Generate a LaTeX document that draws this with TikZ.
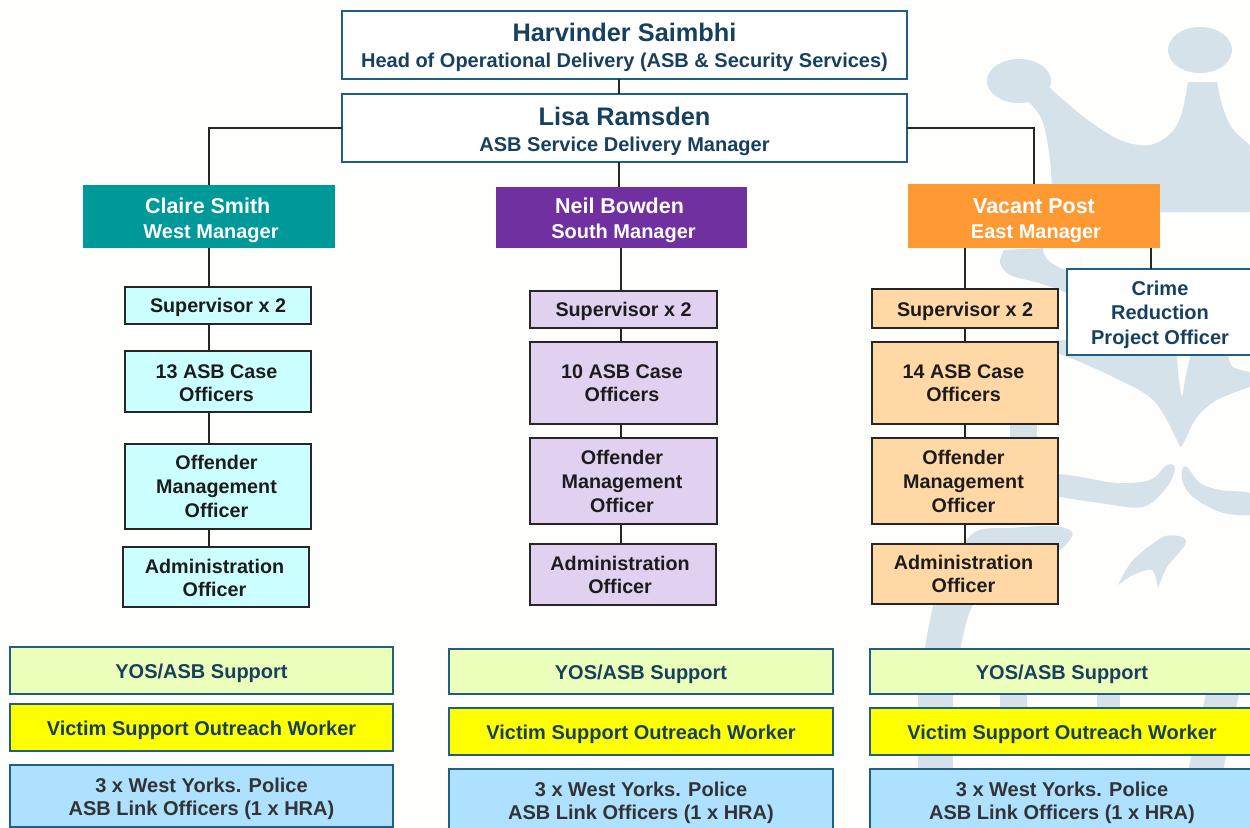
\documentclass[tikz,border=0pt]{standalone}
\usepackage{fontspec}
\setmainfont{Liberation Sans}
\definecolor{pagebg}{HTML}{FEFEFC}
\definecolor{wm}{HTML}{D5E2E9}
\definecolor{edgeblue}{HTML}{205F82}
\definecolor{inkblue}{HTML}{17405F}
\definecolor{inkdark}{HTML}{1C1C1C}
\definecolor{inkgrey}{HTML}{333333}
\definecolor{linedark}{HTML}{262626}
\definecolor{tealfill}{HTML}{009999}
\definecolor{purplefill}{HTML}{7030A0}
\definecolor{orangefill}{HTML}{FF9933}
\definecolor{cyanfill}{HTML}{CCFFFF}
\definecolor{lilacfill}{HTML}{E1D1F0}
\definecolor{peachfill}{HTML}{FFD8A6}
\definecolor{limefill}{HTML}{EBFFBB}
\definecolor{yellowfill}{HTML}{FFFF00}
\definecolor{skyfill}{HTML}{ADE1FF}
\newcommand\bxnode[7]{\node[#2,minimum width={(#5-#3)*0.75pt},minimum height={(#6-#4)*0.75pt}] (#1) at ({(#3+#5)/2},{(#4+#6)/2}) {#7};}
\newcommand\fA{\fontsize{19}{21}\selectfont}
\newcommand\fB{\fontsize{15}{21}\selectfont}
\newcommand\fC{\fontsize{16.1}{19}\selectfont}
\newcommand\fM{\fontsize{15}{18.7}\selectfont}
\newcommand\fD{\fontsize{14.8}{17.3}\selectfont}
\newcommand\ls{\hspace*{-2.2pt}}
\newcommand\dn[1]{\rule{0pt}{#1pt}}
\tikzset{
  anybox/.style={rectangle,inner sep=0pt,outer sep=0pt,align=center,font=\bfseries},
  headbox/.style={anybox,draw=edgeblue,line width=1.4pt,fill=white,text=inkblue},
  mgrbox/.style={anybox,text=white,fill=#1},
  staffbox/.style={anybox,draw=black!85,line width=1.4pt,fill=#1,text=inkdark,font=\bfseries\fD},
  supbox/.style={anybox,draw=edgeblue,line width=1.4pt,fill=#1,text=inkblue,font=\bfseries\fontsize{15}{17.3}\selectfont},
  linkbox/.style={anybox,draw=edgeblue,line width=1.4pt,fill=skyfill,text=inkgrey,font=\bfseries\fontsize{15}{17.3}\selectfont},
  conn/.style={draw=linedark,line width=1.4pt},
  wmshape/.style={fill=wm,draw=none}
}
\begin{document}
\begin{tikzpicture}[x=0.75pt,y=-0.75pt]
\useasboundingbox (0,0) rectangle (1250,828);
\clip (0,0) rectangle (1250,828);
\fill[pagebg] (0,0) rectangle (1250,828);
% watermark crown
\fill[wmshape] (1019,81) ellipse [x radius=32,y radius=22];
\fill[wmshape] (1200,50) ellipse [x radius=32,y radius=23];
\fill[wmshape] plot[smooth,tension=.55] coordinates {(1027,100) (1042,120) (1050,160) (1053,212)} -- (1250,212) -- (1250,145)
  -- plot[smooth,tension=.55] coordinates {(1250,145) (1232,128) (1222,105) (1217,82)}
  -- (1188,82)
  -- plot[smooth,tension=.55] coordinates {(1188,82) (1182,112) (1172,132) (1150,145) (1120,140) (1085,118) (1050,88)} -- cycle;
\fill[wmshape] plot[smooth,tension=.55] coordinates {(1004,250) (1000,263) (1010,275) (1035,282) (1060,290) (1080,300)} -- (1080,255)
  -- plot[smooth,tension=.55] coordinates {(1080,272) (1060,268) (1046,258) (1043,248)} -- cycle;
\fill[wmshape] (1057,353) -- (1057,340) -- (1177,340) -- (1177,357)
  -- plot[smooth,tension=.5] coordinates {(1177,357) (1179,380) (1182,397) (1185,380) (1190,357)}
  -- (1190,340) -- (1228,340) -- (1228,355)
  -- plot[smooth,tension=.6] coordinates {(1228,355) (1233,367) (1250,372)}
  -- (1250,387)
  -- plot[smooth,tension=.6] coordinates {(1250,387) (1217,400) (1197,417) (1185,440) (1180,447) (1177,440) (1153,400) (1113,377) (1080,362) (1057,353)} -- cycle;
\fill[wmshape] plot[smooth,tension=.55] coordinates {(1040,472) (1075,476) (1117,483) (1150,480) (1167,465) (1175,468) (1167,487) (1143,507) (1100,503) (1060,497) (1040,492)} -- cycle;
\fill[wmshape] plot[smooth cycle,tension=.55] coordinates {(1182,470) (1187,467) (1200,483) (1220,490) (1250,493) (1262,505) (1250,515) (1220,512) (1193,497) (1183,483)};
\fill[wmshape] (1010,415) rectangle (1037,445);
\fill[wmshape] plot[smooth,tension=.55] coordinates {(923,660) (933,607) (950,565) (975,532) (1010,528) (1050,526) (1068,529) (1072,536) (1057,552) (1010,575) (977,600) (967,620) (958,660)} -- cycle;
\fill[wmshape] plot[smooth,tension=.5] coordinates {(1118,585) (1133,560) (1163,537) (1182,537) (1185,545) (1167,567) (1158,588)} -- plot[smooth,tension=.5] coordinates {(1158,588) (1152,570) (1133,575) (1118,585)} -- cycle;
\fill[wmshape] (918,690) rectangle (953,775);
\fill[wmshape] (1000,690) rectangle (1027,712);
\fill[wmshape] (1097,690) rectangle (1120,712);
\fill[wmshape] (1207,690) -- (1240,690) -- (1222,775) -- (1187,775) -- cycle;
% nodes
\bxnode{harv}{headbox}{342}{11}{907}{79}{\fA\dn{17}Harvinder Saimbhi\\[7.5pt]\fB Head of Operational Delivery (ASB \& Security Services)}
\bxnode{lisa}{headbox}{342}{94}{907}{162}{\fA\dn{18.5}Lisa Ramsden\\[7.5pt]\fB ASB Service Delivery Manager}
\bxnode{claire}{mgrbox=tealfill}{83}{185}{335}{248}{\fC\dn{17}\hspace*{-2pt}Claire Smith\\[6.7pt]\fM\hspace*{3pt}West Manager}
\bxnode{neil}{mgrbox=purplefill}{496}{187}{747}{248}{\fC\dn{15.5}\hspace*{-3pt}Neil Bowden\\[6.7pt]\fM\hspace*{3pt}South Manager}
\bxnode{vacant}{mgrbox=orangefill}{908}{184}{1160}{248}{\fC\dn{18.5}Vacant Post\\[6.7pt]\fM\hspace*{3pt}East Manager}
\bxnode{crime}{headbox,font=\bfseries\fontsize{15}{18}\selectfont,text=inkblue}{1067}{269}{1256}{355}{\dn{15.5}\ls Crime\\\ls Reduction\\[0.5pt]\ls Project Officer}
\bxnode{wsup}{staffbox=cyanfill}{125}{287}{311}{324}{\dn{14}Supervisor x 2}
\bxnode{wcase}{staffbox=cyanfill}{125}{351}{311}{412}{\dn{12.5}\ls 13 ASB Case\\\ls Officers}
\bxnode{woff}{staffbox=cyanfill}{125}{444}{311}{529}{\ls Offender\\[0.7pt]\ls Management\\[0.7pt]\ls Officer}
\bxnode{wadm}{staffbox=cyanfill}{123}{547}{309}{607}{\dn{12.5}\ls Administration\\\ls Officer}
\bxnode{ssup}{staffbox=lilacfill}{530}{291}{717}{328}{\dn{14}Supervisor x 2}
\bxnode{scase}{staffbox=lilacfill}{530}{342}{717}{424}{\ls 10 ASB Case\\\ls Officers}
\bxnode{soff}{staffbox=lilacfill}{530}{438}{717}{524}{\ls Offender\\[0.7pt]\ls Management\\[0.7pt]\ls Officer}
\bxnode{sadm}{staffbox=lilacfill}{530}{544}{716}{605}{\ls\ls Administration\\\ls\ls Officer}
\bxnode{esup}{staffbox=peachfill}{872}{289}{1058}{328}{\dn{15.5}Supervisor x 2}
\bxnode{ecase}{staffbox=peachfill}{872}{342}{1058}{424}{\ls 14 ASB Case\\\ls Officers}
\bxnode{eoff}{staffbox=peachfill}{872}{438}{1058}{524}{\ls Offender\\[0.7pt]\ls Management\\[0.7pt]\ls Officer}
\bxnode{eadm}{staffbox=peachfill}{872}{544}{1058}{604}{\ls Administration\\\ls Officer}
\bxnode{wyos}{supbox=limefill}{10}{647}{393}{694}{\dn{15.5}YOS/ASB Support}
\bxnode{wvic}{supbox=yellowfill}{10}{704}{393}{751}{\dn{15.5}Victim Support Outreach Worker}
\bxnode{wpol}{linkbox}{10}{765}{393}{827}{\dn{15.5}3 x West Yorks. Police\\ASB Link Officers (1 x HRA)}
\bxnode{syos}{supbox=limefill}{449}{649}{833}{694}{\dn{14.5}YOS/ASB Support}
\bxnode{svic}{supbox=yellowfill}{449}{708}{833}{755}{\dn{15.5}Victim Support Outreach Worker}
\bxnode{spol}{linkbox}{449}{769}{833}{831}{\dn{15.5}3 x West Yorks. Police\\ASB Link Officers (1 x HRA)}
\bxnode{eyos}{supbox=limefill}{870}{649}{1254}{694}{\dn{14.5}YOS/ASB Support}
\bxnode{evic}{supbox=yellowfill}{870}{708}{1254}{755}{\dn{15.5}Victim Support Outreach Worker}
\bxnode{epol}{linkbox}{870}{769}{1254}{831}{\dn{15.5}3 x West Yorks. Police\\ASB Link Officers (1 x HRA)}
% connector columns
\coordinate (colT) at (619,0);
\coordinate (colW) at (209,0);
\coordinate (colS) at (621,0);
\coordinate (colE) at (965,0);
\coordinate (colC) at (1151,0);
\draw[conn] (harv.south -| colT) -- (lisa.north -| colT);
\draw[conn] (lisa.south -| colT) -- (neil.north -| colT);
\draw[conn] (lisa.west) -| (claire.north);
\draw[conn] (lisa.east) -| (vacant.north);
\draw[conn] (claire.south -| colW) -- (wsup.north -| colW);
\draw[conn] (wsup.south -| colW) -- (wcase.north -| colW);
\draw[conn] (wcase.south -| colW) -- (woff.north -| colW);
\draw[conn] (woff.south -| colW) -- (wadm.north -| colW);
\draw[conn] (neil.south -| colS) -- (ssup.north -| colS);
\draw[conn] (ssup.south -| colS) -- (scase.north -| colS);
\draw[conn] (scase.south -| colS) -- (soff.north -| colS);
\draw[conn] (soff.south -| colS) -- (sadm.north -| colS);
\draw[conn] (vacant.south -| colE) -- (esup.north -| colE);
\draw[conn] (esup.south -| colE) -- (ecase.north -| colE);
\draw[conn] (ecase.south -| colE) -- (eoff.north -| colE);
\draw[conn] (eoff.south -| colE) -- (eadm.north -| colE);
\draw[conn] (vacant.south -| colC) -- (crime.north -| colC);
\end{tikzpicture}
\end{document}
